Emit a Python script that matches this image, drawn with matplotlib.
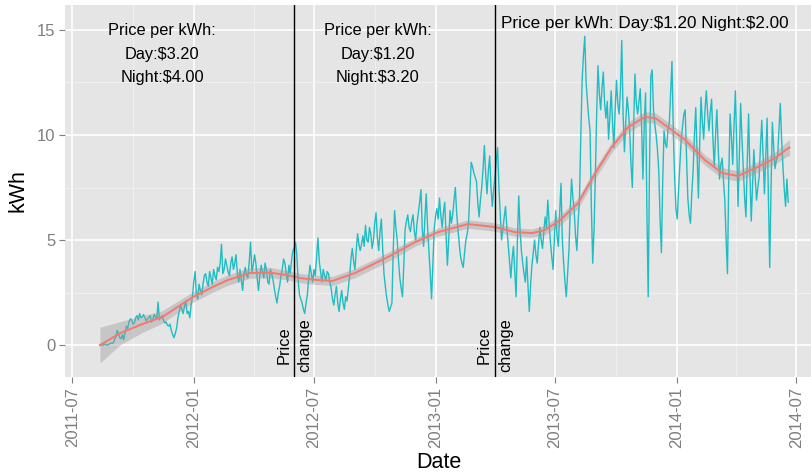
import matplotlib
matplotlib.use("Agg")
import matplotlib.pyplot as plt
import numpy as np
import pandas as pd

plt.rcParams['font.family'] = ['Liberation Sans', 'DejaVu Sans']

# ---- data ----
series_start = "2011-08-12"
series_step_days = 2

# daily kWh (every 2nd day), before first price change
kwh_seg1 = [0.0, 0.0, 0.0, 0.02, 0.05, 0.0, 0.0, 0.05, 0.1, 0.08,
            0.1, 0.25, 0.4, 0.7, 0.55, 0.35, 0.3, 0.5, 0.25, 0.6,
            0.9, 0.8, 1.1, 1.25, 1.2, 1.0, 1.05, 1.3, 1.4, 1.2,
            1.5, 1.3, 1.35, 1.45, 1.3, 1.15, 1.25, 1.3, 1.4, 1.1,
            1.2, 1.45, 1.35, 1.25, 2.05, 1.2, 1.3, 1.4, 1.2, 1.05,
            1.1, 0.95, 0.9, 1.0, 0.7, 0.5, 0.35, 0.55, 0.8, 1.3,
            1.6, 1.9, 1.7, 1.5, 1.85, 2.1, 1.5, 1.6, 1.3, 1.9,
            2.3, 3.0, 3.5, 2.4, 2.2, 2.9, 2.6, 2.4, 2.9, 3.3,
            3.4, 3.0, 2.8, 3.5, 3.2, 2.9, 3.6, 3.3, 3.1, 3.7,
            3.5, 3.9, 4.8, 3.4, 3.6, 4.1, 3.8, 3.5, 3.3, 3.9,
            4.2, 3.6, 3.9, 4.3, 3.4, 3.0, 3.6, 3.1, 2.6, 3.4,
            3.7, 3.3, 3.2, 4.0, 4.9, 3.5, 3.8, 4.3, 3.9, 3.2,
            2.6, 3.3, 3.8, 3.5, 3.2, 3.9, 3.6, 3.0, 2.9, 3.6,
            3.4, 3.1, 2.7, 2.3, 2.0, 2.5, 2.8, 3.3, 3.6, 4.1,
            3.9, 3.4, 3.0, 3.8, 3.4, 4.0, 4.5]
# between the two price changes
kwh_seg2 = [4.6, 4.9, 4.3, 3.1, 2.4, 2.2, 2.0, 1.7, 1.5, 2.0,
            2.4, 3.2, 3.8, 3.4, 3.0, 3.6, 3.3, 4.2, 5.1, 4.0,
            3.5, 3.0, 3.6, 3.3, 3.1, 3.5, 3.4, 3.0, 2.7, 2.2,
            1.9, 2.4, 2.8, 2.0, 1.6, 2.2, 2.6, 2.0, 1.7, 2.3,
            2.1, 2.7, 3.3, 4.1, 4.6, 4.0, 3.6, 4.5, 5.3, 4.8,
            4.5, 4.8, 5.2, 4.7, 5.7, 5.0, 4.9, 5.6, 5.3, 4.6,
            5.0, 5.8, 6.3, 5.1, 4.5, 5.4, 6.0, 4.6, 3.4, 2.8,
            2.3, 1.9, 1.6, 1.8, 2.0, 4.5, 6.4, 5.6, 5.0, 4.0,
            3.2, 2.7, 2.3, 3.8, 5.5, 5.9, 6.2, 5.6, 5.4, 5.9,
            6.2, 5.4, 5.0, 5.8, 6.3, 6.8, 7.4, 5.5, 4.7, 6.1,
            7.2, 5.6, 4.5, 3.4, 2.2, 3.8, 5.5, 6.1, 6.5, 6.0,
            7.0, 6.2, 5.6, 6.3, 6.8, 5.2, 3.8, 5.0, 6.4, 5.8,
            6.2, 6.9, 7.5, 6.3, 5.5, 4.8, 4.2, 3.9, 3.7, 4.4,
            5.0, 5.3, 5.8, 7.2, 8.7, 8.5, 8.2, 8.0, 7.8, 6.8,
            6.1, 6.9, 7.5, 8.4, 9.5, 8.1, 7.2, 8.3, 9.0, 7.5,
            6.6, 7.4]
# after the second price change
kwh_seg3 = [8.0, 8.8, 9.4, 7.5, 6.2, 5.0, 5.5, 6.1, 6.6, 5.6,
            4.8, 4.0, 3.2, 4.1, 4.7, 3.5, 2.3, 5.0, 7.1, 5.5,
            4.5, 3.9, 3.4, 3.0, 4.2, 2.8, 1.6, 2.9, 3.8, 4.4,
            5.0, 4.3, 3.9, 4.8, 5.6, 5.0, 4.6, 5.4, 6.1, 5.6,
            6.9, 5.8, 4.9, 4.2, 3.6, 5.1, 6.4, 5.2, 4.7, 6.3,
            7.7, 5.0, 3.9, 3.0, 2.3, 3.4, 4.5, 6.5, 7.9, 7.0,
            6.4, 5.2, 4.5, 5.9, 7.0, 10.0, 12.6, 13.8, 14.7, 12.5,
            11.6, 10.8, 10.2, 6.5, 3.9, 5.5, 8.0, 11.0, 13.3, 12.0,
            11.2, 12.2, 13.0, 11.5, 10.8, 11.6, 9.8, 10.9, 12.1, 10.6,
            9.4, 11.2, 12.6, 11.5, 11.0, 12.2, 14.5, 11.0, 9.2, 10.6,
            11.8, 11.2, 10.2, 8.6, 7.5, 10.5, 12.9, 11.5, 11.0, 11.6,
            12.2, 10.4, 7.9, 10.5, 12.0, 6.5, 2.3, 8.5, 12.8, 13.1,
            11.2, 10.5, 10.0, 9.3, 8.3, 6.0, 4.4, 7.8, 10.2, 9.6,
            9.4, 10.3, 10.6, 12.0, 13.5, 10.2, 8.0, 6.5, 6.0, 7.4,
            8.6, 9.8, 10.4, 11.0, 11.2, 9.0, 7.0, 6.2, 5.8, 7.2,
            8.3, 10.0, 11.3, 9.2, 7.0, 9.6, 11.8, 10.6, 9.8, 11.2,
            12.1, 11.0, 10.2, 11.1, 11.7, 9.8, 8.5, 10.0, 11.2, 9.4,
            7.9, 8.6, 8.9, 7.8, 6.9, 5.0, 3.4, 8.0, 11.0, 9.9,
            8.6, 10.5, 12.1, 9.5, 6.6, 9.0, 11.5, 9.8, 8.4, 7.0,
            6.1, 8.8, 11.0, 8.2, 5.9, 7.6, 9.3, 8.0, 6.9, 7.5,
            8.0, 9.5, 10.7, 8.9, 7.2, 9.0, 10.8, 7.0, 3.7, 7.5,
            10.6, 9.4, 8.4, 8.8, 9.0, 10.2, 11.5, 9.8, 8.5, 7.4,
            6.6, 7.9, 6.8]

smooth_dates = ["2011-08-12", "2011-09-12", "2011-10-15", "2011-11-14", "2011-12-31",
                "2012-02-01", "2012-02-22", "2012-03-26", "2012-04-26", "2012-05-21",
                "2012-06-10", "2012-07-05", "2012-07-29", "2012-09-01", "2012-10-21",
                "2012-12-01", "2013-01-05", "2013-02-19", "2013-04-01", "2013-05-01",
                "2013-05-27", "2013-06-16", "2013-07-09", "2013-08-05", "2013-08-31",
                "2013-09-25", "2013-10-20", "2013-11-14", "2013-11-30", "2013-12-22",
                "2014-01-14", "2014-02-13", "2014-03-11", "2014-04-04", "2014-05-04",
                "2014-05-30", "2014-06-17", "2014-06-21"]
smooth_kwh = [0.0, 0.57, 1.0, 1.33, 2.29,
              2.8, 3.1, 3.43, 3.45, 3.33,
              3.19, 3.1, 3.05, 3.43, 4.19,
              4.9, 5.38, 5.76, 5.62, 5.38,
              5.33, 5.48, 5.95, 6.76, 8.19,
              9.43, 10.38, 10.86, 10.8, 10.3,
              9.76, 8.8, 8.19, 8.05, 8.48,
              8.9, 9.33, 9.4]
smooth_se = [0.85, 0.55, 0.4, 0.3, 0.25,
             0.25, 0.25, 0.25, 0.25, 0.22,
             0.22, 0.22, 0.22, 0.22, 0.22,
             0.2, 0.2, 0.2, 0.2, 0.2,
             0.2, 0.22, 0.25, 0.25, 0.25,
             0.25, 0.25, 0.25, 0.25, 0.25,
             0.25, 0.25, 0.25, 0.25, 0.25,
             0.28, 0.35, 0.38]

price_change_dates = ["2012-06-01", "2013-04-01"]
price_labels = ["Price per kWh:\nDay:$3.20\nNight:$4.00",
                "Price per kWh:\nDay:$1.20\nNight:$3.20",
                "Price per kWh: Day:$1.20 Night:$2.00"]
price_label_dates = ["2011-11-14", "2012-10-05", "2013-11-14"]
price_label_y = [13.85, 13.85, 15.3]
price_label_sizes = [11.8, 11.8, 12.3]

x_ticks = ["2011-07-01", "2012-01-01", "2012-07-01", "2013-01-01",
           "2013-07-01", "2014-01-01", "2014-07-01"]
y_ticks = [0, 5, 10, 15]

# ---- build ----
kwh = np.array(kwh_seg1 + kwh_seg2 + kwh_seg3)
dates = pd.date_range(series_start, periods=len(kwh), freq=f"{series_step_days}D")
sd = pd.to_datetime(smooth_dates)
sk = np.array(smooth_kwh)
se = np.array(smooth_se)

fig = plt.figure(figsize=(8.12, 4.74), dpi=100)
ax = fig.add_axes([0.080, 0.2046, 0.92, 0.785])

ax.set_facecolor("#E5E5E5")
for s in ax.spines.values():
    s.set_visible(False)

xt = pd.to_datetime(x_ticks)
ax.set_xticks(xt)
ax.set_xticklabels([d.strftime("%Y-%m") for d in xt], rotation=90)
minor_x = xt[:-1] + (xt[1:] - xt[:-1]) / 2
ax.set_xticks(list(minor_x), minor=True)
ax.set_yticks(y_ticks)
ax.set_yticks([2.5, 7.5, 12.5], minor=True)

ax.grid(which="major", color="white", linewidth=1.2)
ax.grid(which="minor", color="#F2F2F2", linewidth=0.6)
ax.set_axisbelow(True)
ax.tick_params(which="major", length=4, color="#7F7F7F", labelcolor="#7F7F7F",
               labelsize=12, width=0.8, pad=3)
ax.tick_params(which="minor", length=0)

ax.plot(dates, kwh, color="#1FBDC3", linewidth=1.0, zorder=2)
ax.fill_between(sd, sk - se, sk + se, color="#999999", alpha=0.4, linewidth=0, zorder=3)
ax.plot(sd, sk, color="#F8766D", linewidth=1.4, zorder=4)

for d in price_change_dates:
    ax.axvline(pd.Timestamp(d), color="black", linewidth=1.0, zorder=5)
    ax.text(pd.Timestamp(d), 0, "Price\nchange", rotation=90, ha="center", va="center",
            fontsize=11.8, linespacing=1.5, zorder=6, parse_math=False)

for lbl, d, y, fs in zip(price_labels, price_label_dates, price_label_y, price_label_sizes):
    ax.text(pd.Timestamp(d), y, lbl, ha="center", va="center", fontsize=fs,
            linespacing=1.7, zorder=6, parse_math=False)

ax.set_xlim(pd.Timestamp("2011-06-20"), pd.Timestamp("2014-07-25"))
ax.set_ylim(-1.52, 16.19)

ax.set_xlabel("Date", fontsize=15.5, labelpad=3)
ax.set_ylabel("kWh", fontsize=15.5, labelpad=6)

fig.savefig("out.png", dpi=100)
